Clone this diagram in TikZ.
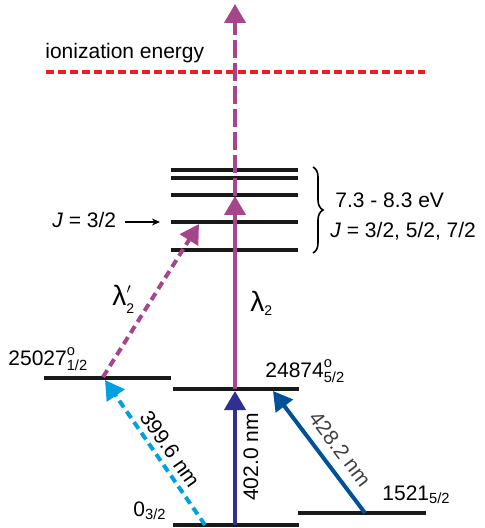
\documentclass[tikz,border=0pt]{standalone}
\usepackage{amsmath}
\usepackage{fontspec}
\setmainfont{Liberation Sans}
\usetikzlibrary{arrows.meta, positioning, calc, decorations.pathreplacing}
\definecolor{cPurple}{RGB}{165,70,140}
\definecolor{cRed}{RGB}{237,28,36}
\definecolor{cCyan}{RGB}{0,160,226}
\definecolor{cNavy}{RGB}{46,49,146}
\definecolor{cBlue}{RGB}{0,80,155}
\tikzset{
	level/.style   ={line width=2.3pt, black!90},
	laser/.style   ={line width=2pt, -{Triangle[length=9.5pt, width=10.5pt]}},
	dashlaser/.style={laser, dash pattern=on 4pt off 2.5pt},
	lbl/.style     ={inner sep=0pt},
	biglbl/.style  ={inner sep=0pt, font=\fontsize{14}{17}\selectfont},
	pointer/.style ={-{Stealth[length=4pt, width=3.5pt]}, line width=0.6pt},
}

\begin{document}
\begin{tikzpicture}[x=0.5pt, y=-0.5pt, font=\fontsize{10.5}{12}\selectfont]
	\useasboundingbox (0,0) rectangle (485,528);
	% energy levels
	\draw[level] (173,525) -- (299,525);
	\draw[level] (298,513) -- (426,513);
	\draw[level] (173,389) -- (299,389);
	\draw[level] (44,378) -- (171,378);
	\foreach \y in {170,178,195,222,250}
		\draw[level] (171,\y) -- (298,\y);
	% ionization limit
	\draw[cRed, line width=2.2pt, dash pattern=on 4pt off 2pt] (46,72) -- (425,72);
	\node[lbl, anchor=base west] (ion) at (45,59) {ionization energy};
	% anchor points of the transitions
	\coordinate (g0) at (235,525);
	\coordinate (g0b) at (205,525);
	\coordinate (g1) at (365,513);
	\coordinate (m0) at (235,391);
	\coordinate (m1) at (273,391);
	\coordinate (o0) at (105,380);
	\coordinate (o1) at (103,377);
	\coordinate (h0) at (235,389);
	\coordinate (h1) at (235,196);
	\coordinate (h2) at (199,224);
	\coordinate (top) at (235,4);
	% transitions
	\draw[laser, cNavy] (g0) -- (m0);
	\draw[dashlaser, cCyan] (g0b) -- (o0);
	\draw[laser, cBlue] (g1) -- (m1);
	\draw[laser, cPurple] (h0) -- (h1);
	\draw[laser, cPurple, dash pattern=on 9pt off 2.5pt] (h1) -- (top);
	\draw[dashlaser, cPurple] (o1) -- (h2);
	\node[lbl, rotate=90] (l402) at (251,457) {402.0 nm};
	\node[lbl, rotate=-55] (l399) at (170,449) {399.6 nm};
	\node[lbl, rotate=-53, text=black!75] (l428) at (340,449) {428.2 nm};
	% level labels
	\node[lbl, anchor=base west] (s25027) at (8,365) {$\text{25027}^{\text{o}}_{\text{1/2}}$};
	\node[lbl, anchor=base west] (s24874) at (265,377) {$\text{24874}^{\text{o}}_{\text{5/2}}$};
	\node[lbl, anchor=base west] (s0) at (133,516) {$\text{0}_{\text{3/2}}$};
	\node[lbl, anchor=base west] (s1521) at (382,500) {$\text{1521}_{\text{5/2}}$};
	\node[biglbl, anchor=base west] (lam) at (250,311) {$\text{λ}_{\scriptscriptstyle\text{2}}$};
	\node[biglbl, anchor=base west] (lamp) at (112,306) {$\text{λ}_{\scriptscriptstyle\text{2}}^{\scriptscriptstyle\prime}$};
	% upper levels
	\node[lbl, anchor=base west] (jsel) at (52,228) {\textit{J} = 3/2};
	\coordinate (jtail) at (125,222);
	\coordinate (jtip) at (160,222);
	\draw[pointer] (jtail) -- (jtip);
	\draw[decorate, decoration={brace, amplitude=5pt}, line width=0.8pt] (313,167) -- (313,253);
	\node[lbl, anchor=base west] (erange) at (335,208) {7.3 - 8.3 eV};
	\node[lbl, anchor=base west] (jrange) at (330,238) {\textit{J} = 3/2, 5/2, 7/2};
\end{tikzpicture}
\end{document}
